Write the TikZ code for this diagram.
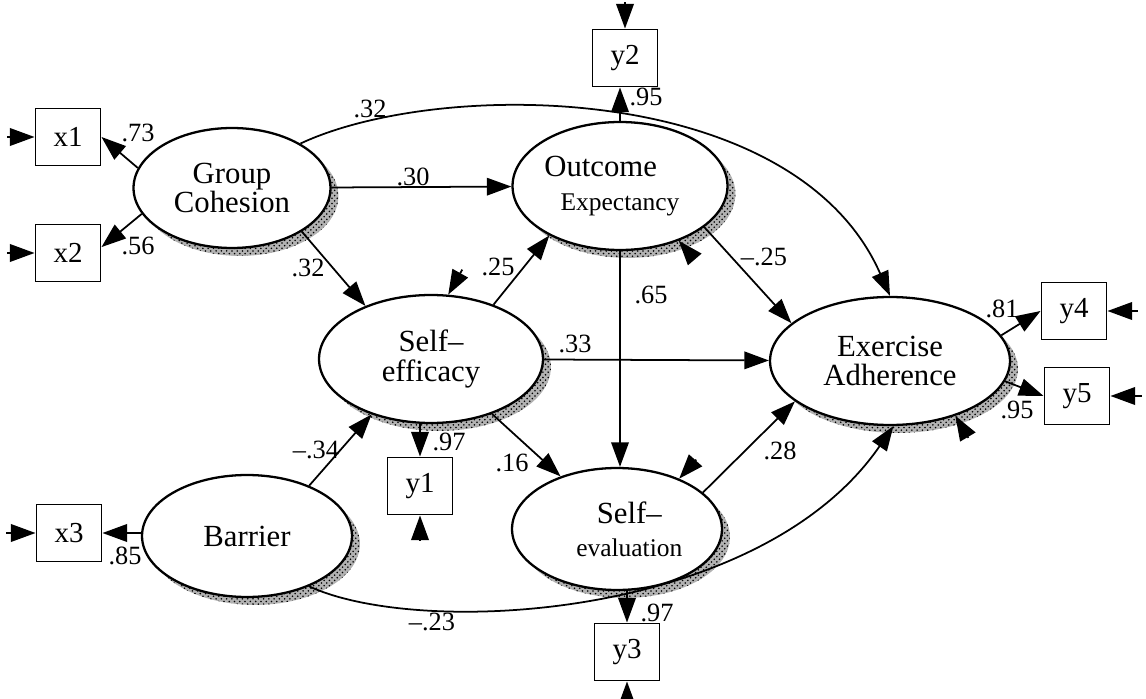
\documentclass[tikz,border=0pt]{standalone}
\usepackage{fontspec}
\setmainfont{Liberation Serif}
\usepackage{tikz}
\usetikzlibrary{arrows.meta,shapes.geometric,patterns,positioning}

\tikzset{
  latent/.style={ellipse, draw, line width=1.3pt, fill=white, inner sep=0pt, align=center,
    font=\fontsize{17.5}{17}\selectfont,
    preaction={fill=black!30, transform canvas={xshift=4.5pt, yshift=-4.5pt}},
    preaction={pattern=crosshatch dots, pattern color=black,
      transform canvas={xshift=4.5pt, yshift=-4.5pt}}},
  obs/.style={draw, line width=1.1pt, minimum width=1.3cm, minimum height=1.14cm,
    inner sep=0pt, font=\fontsize{16.5}{16}\selectfont},
  arr/.style={line width=1pt, -{Triangle[length=14pt,width=10pt]}},
  err/.style={line width=1pt, {Triangle[length=14pt,width=10pt]}-},
  lbl/.style={inner sep=0pt, font=\fontsize{15}{15}\selectfont},
}
\newcommand{\subtxt}{\fontsize{14.5}{14}\selectfont}

\begin{document}
\begin{tikzpicture}[x=0.02cm, y=-0.02cm]
    \useasboundingbox (0,0) rectangle (1146,699);
    %潜变量(latent):椭圆,右下方带点状阴影
    \node[latent, minimum width=3.94cm, minimum height=2.4cm] (GC) at (232,188) {Group\\Cohesion};
    \node[latent, minimum width=4.3cm, minimum height=2.56cm] (OE) at (620,186) {Outcome\hspace*{22pt}\\[2pt]{\subtxt Expectancy}};
    \node[latent, minimum width=4.48cm, minimum height=2.56cm] (SE) at (431,359) {Self--\\efficacy};
    \node[latent, minimum width=4.8cm, minimum height=2.56cm] (EA) at (890,361) {Exercise\\Adherence};
    \node[latent, minimum width=4.2cm, minimum height=2.44cm] (BA) at (247,536) {Barrier};
    \node[latent, minimum width=4.2cm, minimum height=2.44cm] (SV) at (617,529) {\hspace*{14pt}Self--\\[2pt]\hspace*{14pt}{\subtxt evaluation}};
    %观测变量(obs):方框
    \node[obs] (x1) at (68,137) {x1};
    \node[obs] (x2) at (68,253) {x2};
    \node[obs] (x3) at (69,533) {x3};
    \node[obs] (y1) at (420,486) {y1};
    \node[obs] (y2) at (625,58) {y2};
    \node[obs] (y3) at (627,652) {y3};
    \node[obs] (y4) at (1074,311) {y4};
    \node[obs] (y5) at (1077,396) {y5};
    %测量误差:短箭头指向方框
    \foreach \n/\a/\dx/\dy in {x1/west/-28/0, x2/west/-28/0, x3/west/-30/0, y4/east/31/0,
        y5/east/32/0, y1/south/0/26, y3/south/0/20, y2/north/0/-27}
        {\draw[err] (\n.\a) -- ++(\dx,\dy);}
    %残差:短箭头指向椭圆
    \draw[err] (SE.75) -- ++(14,-25);
    \draw[err] (OE.-43) -- ++(12,14);
    \draw[err] (SV.39) -- ++(17,-19);
    \draw[err] (EA.-40) -- ++(13,22);
    %载荷(loadings)
    \draw[arr] (GC.168) -- (x1.east) node[lbl] at (138,133) {.73};
    \draw[arr] (GC.196) -- (x2.10) node[lbl] at (138,246) {.56};
    \draw[arr] (BA.west |- x3.east) -- (x3.east) node[lbl] at (125,556) {.85};
    \draw[arr] (y1.north |- SE.south) -- (y1.north) node[lbl] at (449,442) {.97};
    \draw[arr] (OE.north) -- (OE.north |- y2.south) node[lbl] at (646,97) {.95};
    \draw[arr] (y3.north |- SV.south) -- (y3.north) node[lbl] at (657,613) {.97};
    \draw[arr] (EA.13) -- (y4.west) node[lbl] at (1002,309) {.81};
    \draw[arr] (EA.-10) -- (y5.west) node[lbl] at (1017,410) {.95};
    %路径系数(paths)
    \draw[arr] (GC) -- (OE) node[lbl] at (413,177) {.30};
    \draw[arr] (GC.-32) -- (SE.141) node[lbl] at (308,268) {.32};
    \draw[arr] (GC.33) .. controls (440,78) and (795,80) .. (EA.north) node[lbl] at (370,109) {.32};
    \draw[arr] (SE.41) -- (OE.215) node[lbl] at (498,267) {.25};
    \draw[arr] (SE) -- (EA) node[lbl] at (575,344) {.33};
    \draw[arr] (SE.-42) -- (SV.137) node[lbl] at (512,463) {.16};
    \draw[arr] (OE.-26) -- (EA.159) node[lbl] at (764,257) {--.25};
    \draw[arr] (OE.south) -- (OE.south |- SV.north) node[lbl] at (651,295) {.65};
    \draw[arr] (SV.23) -- (EA.203) node[lbl] at (780,451) {.28};
    \draw[arr] (BA.39) -- (SE.223) node[lbl] at (316,450) {--.34};
    \draw[arr] (BA.-39) .. controls (420,638) and (760,620) .. (EA.-87) node[lbl] at (432,622) {--.23};
\end{tikzpicture}
\end{document}
